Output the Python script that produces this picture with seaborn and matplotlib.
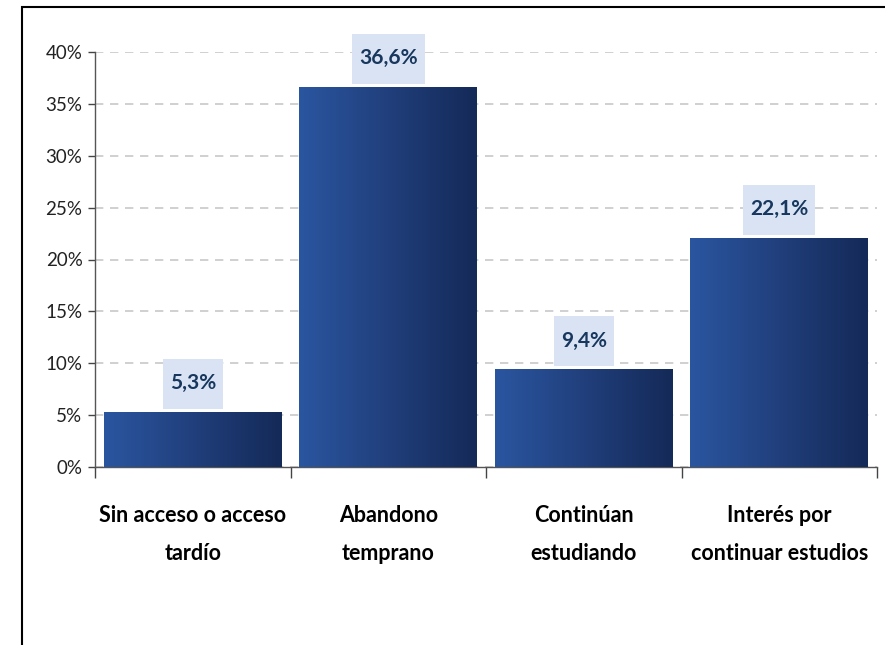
import numpy as np
import pandas as pd
import matplotlib
matplotlib.use("Agg")
import matplotlib.pyplot as plt
import seaborn as sns
from matplotlib.colors import LinearSegmentedColormap
from matplotlib.patches import Rectangle

categories = ["Sin acceso o acceso\ntardío", "Abandono\ntemprano",
              "Continúan\nestudiando", "Interés por\ncontinuar estudios"]
values = [5.3, 36.6, 9.4, 22.1]
value_labels = ["5,3%", "36,6%", "9,4%", "22,1%"]
yticks = [0, 5, 10, 15, 20, 25, 30, 35, 40]
ytick_labels = ["0%", "5%", "10%", "15%", "20%", "25%", "30%", "35%", "40%"]

sns.set_theme(style="white")
plt.rcParams['font.family'] = ['Lato', 'DejaVu Sans']

df = pd.DataFrame({"cat": categories, "val": values})

fig = plt.figure(figsize=(8.85, 6.45), dpi=100)
ax = fig.add_axes([95/885, (645-467)/645, (877-95)/885, 415/645])

sns.barplot(data=df, x="cat", y="val", ax=ax, width=0.91, color="#24498f",
            saturation=1, zorder=3)

ax.set_ylim(0, 40)
ax.set_xlim(-0.5, 3.5)

# gradient fill on bars
cmap = LinearSegmentedColormap.from_list("g", ["#2a56a0", "#213f7c", "#142a58"])
grad = np.linspace(0, 1, 256).reshape(1, -1)
for p in ax.patches:
    x0, y0 = p.get_x(), p.get_y()
    w, h = p.get_width(), p.get_height()
    im = ax.imshow(grad, cmap=cmap, aspect="auto", extent=[x0, x0 + w, y0, y0 + h],
                   zorder=3, interpolation="bicubic")
    im.set_clip_path(p)
    p.set_facecolor("none")
    p.set_edgecolor("none")
ax.set_xlim(-0.5, 3.5)
ax.set_ylim(0, 40)

ax.set_yticks(yticks)
ax.set_yticklabels(ytick_labels, fontsize=13.5, color="#222222")
ax.yaxis.grid(True, linestyle=(0, (5, 4)), color="#c8c8c8", linewidth=1.2, zorder=0)
ax.set_axisbelow(True)

ax.set_xticks(range(4))
ax.set_xticklabels(categories, fontsize=15.5, fontweight="bold", color="black",
                   linespacing=2.0)
ax.set_xlabel("")
ax.set_ylabel("")
ax.set_xticks([-0.5, 0.5, 1.5, 2.5, 3.5], minor=True)
ax.tick_params(axis="x", which="major", length=0, pad=27)
ax.tick_params(axis="x", which="minor", length=8, width=1, color="#444444", direction="out",
               bottom=True)
ax.tick_params(axis="y", which="major", length=5, width=1, color="#444444", left=True, pad=4)

for s in ["top", "right"]:
    ax.spines[s].set_visible(False)
ax.spines["left"].set_color("#555555")
ax.spines["left"].set_linewidth(1)
ax.spines["bottom"].set_color("#555555")
ax.spines["bottom"].set_linewidth(1)

# value labels with boxes
texts = []
for i, (v, lab) in enumerate(zip(values, value_labels)):
    t = ax.annotate(lab, xy=(i, v), xytext=(0, 29 * 0.72), textcoords="offset points",
                    ha="center", va="center", fontsize=15, fontweight="bold",
                    color="#17375e", zorder=6, annotation_clip=False)
    texts.append(t)

fig.canvas.draw()
renderer = fig.canvas.get_renderer()
for i, (t, v) in enumerate(zip(texts, values)):
    bb = t.get_window_extent(renderer)
    cx = (bb.x0 + bb.x1) / 2
    _, ytop = ax.transData.transform((i, v))
    w = bb.width + 14
    rect = Rectangle((cx - w / 2, ytop + 3), w, 50, transform=None,
                     fc="#dae3f3", ec="none", zorder=5)
    rect.set_clip_on(False)
    ax.add_artist(rect)

# outer frame
fig.patches.append(Rectangle((22/885, -0.05), 1.2, (645-7)/645 + 0.05,
                             transform=fig.transFigure, fill=False, ec="black", lw=1.5))

fig.savefig("out.png", dpi=100)
